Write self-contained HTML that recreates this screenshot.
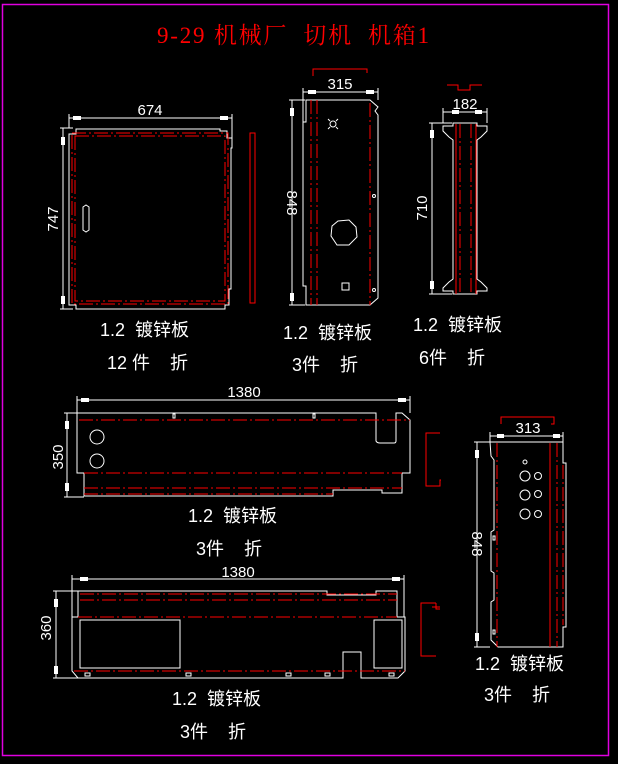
<!DOCTYPE html>
<html><head><meta charset="utf-8"><style>
html,body{margin:0;padding:0;background:#000;width:618px;height:764px;overflow:hidden}
svg{display:block}
text{white-space:pre}
.w{fill:none;stroke:#fff;stroke-width:1}
.r{fill:none;stroke:#f00;stroke-width:1}
.rd{fill:none;stroke:#f00;stroke-width:1;stroke-dasharray:14 3 2 3}
.t{fill:#fff;font-family:"Liberation Sans","Noto Sans CJK SC",sans-serif;font-size:18px}
.d{fill:#fff;font-family:"Liberation Sans",sans-serif;font-size:15px}
</style></head><body>
<svg width="618" height="764" viewBox="0 0 618 764" xml:space="preserve">
<rect x="2.5" y="4.5" width="606" height="751" fill="none" stroke="#e000e0" stroke-width="1.5"/>
<text x="157" y="43" fill="#f00" font-family="Liberation Serif,'Noto Serif CJK SC',serif" font-size="23" textLength="272" lengthAdjust="spacing">9-29 机械厂  切机  机箱1</text>

<!-- Panel 1 -->
<line class="w" x1="69" y1="118" x2="232" y2="118"/><line class="w" x1="69" y1="114" x2="69" y2="128"/><line class="w" x1="232" y1="114" x2="232" y2="145"/>
<rect x="73" y="116" width="8" height="4" fill="#fff"/><rect x="220" y="116" width="8" height="4" fill="#fff"/>
<text class="d" x="150" y="115" text-anchor="middle">674</text>
<line class="w" x1="63" y1="128" x2="63" y2="309"/><line class="w" x1="60" y1="128" x2="73" y2="128"/><line class="w" x1="60" y1="309" x2="73" y2="309"/>
<rect x="61" y="137" width="4" height="8" fill="#fff"/><rect x="61" y="296" width="4" height="8" fill="#fff"/>
<text class="d" transform="translate(58,219) rotate(-90)" text-anchor="middle">747</text>
<path class="w" d="M76,129 H220 V131 H227 V138 H232 V148 H231 V289 H229 V305 H225 V309 H76 V305 H69 V134 H76 Z"/>
<rect class="rd" x="72" y="133" width="156" height="171"/>
<rect class="rd" x="75" y="136" width="150" height="165"/>
<path class="w" d="M83,207 L86,205 L89,207 V230 L86,232 L83,230 Z"/>
<rect class="r" x="250" y="133" width="5" height="170"/>

<!-- Panel 2 -->
<path class="r" d="M313,76 V69 H367 V73" stroke-width="1.5"/>
<line class="w" x1="303" y1="92" x2="378" y2="92"/><line class="w" x1="303" y1="88" x2="303" y2="122"/><line class="w" x1="378" y1="88" x2="378" y2="100"/>
<rect x="308" y="90" width="8" height="4" fill="#fff"/><rect x="366" y="90" width="8" height="4" fill="#fff"/>
<text class="d" x="340" y="89" text-anchor="middle">315</text>
<line class="w" x1="292" y1="100" x2="292" y2="305"/><line class="w" x1="289" y1="100" x2="305" y2="100"/><line class="w" x1="289" y1="305" x2="305" y2="305"/>
<rect x="290" y="108" width="4" height="8" fill="#fff"/><rect x="290" y="293" width="4" height="8" fill="#fff"/>
<text class="d" transform="translate(287,203) rotate(90)" text-anchor="middle">848</text>
<path class="w" d="M306,100 H370 L378,107 L375,111 L378,115 V298 L370,305 H306 V286 H303 V122 H306 Z"/>
<line class="rd" x1="311" y1="100" x2="311" y2="305"/><line class="rd" x1="317" y1="100" x2="317" y2="305"/><line class="rd" x1="370" y1="103" x2="370" y2="305"/>
<circle class="w" cx="333" cy="124" r="3"/>
<path class="w" d="M328,119 l2,2 M338,119 l-2,2 M328,129 l2,-2 M338,129 l-2,-2"/>
<polygon class="w" points="338,221 349,220 356,227 357,237 349,245 337,245 331,236 332,226"/>
<rect class="w" x="342" y="283" width="7" height="7"/>
<circle class="w" cx="374" cy="196" r="1.5"/><circle class="w" cx="374" cy="290" r="1.5"/>

<!-- Panel 3 -->
<path class="r" d="M447,85 H458 V90 H470 V85 H482" stroke-width="1.5"/>
<line class="w" x1="443" y1="112" x2="487" y2="112"/><line class="w" x1="443" y1="108" x2="443" y2="123"/><line class="w" x1="487" y1="108" x2="487" y2="123"/>
<rect x="452" y="110" width="7" height="4" fill="#fff"/><rect x="475" y="110" width="7" height="4" fill="#fff"/>
<text class="d" x="465" y="109" text-anchor="middle">182</text>
<line class="w" x1="432" y1="123" x2="432" y2="294"/><line class="w" x1="429" y1="123" x2="452" y2="123"/><line class="w" x1="429" y1="294" x2="452" y2="294"/>
<rect x="430" y="130" width="4" height="8" fill="#fff"/><rect x="430" y="281" width="4" height="8" fill="#fff"/>
<text class="d" transform="translate(427,208) rotate(-90)" text-anchor="middle">710</text>
<path class="w" d="M453,123 H477 V126 H487 V131 L481,137 L477,140 V279 L481,282 L487,288 V291 H477 V294 H453 V291 H443 V288 L449,282 L453,279 V140 L449,137 L443,131 V126 H453 Z"/>
<line class="r" x1="456" y1="124" x2="456" y2="294"/><line class="rd" x1="460" y1="124" x2="460" y2="294"/><line class="rd" x1="471" y1="124" x2="471" y2="294"/><line class="r" x1="476" y1="124" x2="476" y2="294"/>

<!-- Panel 4 -->
<line class="w" x1="77" y1="400" x2="410" y2="400"/><line class="w" x1="77" y1="396" x2="77" y2="413"/><line class="w" x1="410" y1="396" x2="410" y2="413"/>
<rect x="81" y="398" width="8" height="4" fill="#fff"/><rect x="398" y="398" width="8" height="4" fill="#fff"/>
<text class="d" x="244" y="397" text-anchor="middle">1380</text>
<line class="w" x1="67" y1="413" x2="67" y2="497"/><line class="w" x1="64" y1="413" x2="77" y2="413"/><line class="w" x1="64" y1="497" x2="84" y2="497"/>
<rect x="65" y="421" width="4" height="8" fill="#fff"/><rect x="65" y="483" width="4" height="8" fill="#fff"/>
<text class="d" transform="translate(63,457) rotate(-90)" text-anchor="middle">350</text>
<path class="w" d="M77,413 H376 V441 Q377,443 380,443 H394 Q396,443 396,441 V413 H402 L410,420 V473 H402 V493 H382 V490 H333 V496 H84 V473 H77 Z"/>
<line class="rd" x1="79" y1="420" x2="410" y2="420"/><line class="rd" x1="84" y1="473" x2="402" y2="473"/><line class="rd" x1="84" y1="488" x2="402" y2="488"/><line class="rd" x1="84" y1="494" x2="333" y2="494"/>
<circle class="w" cx="97" cy="437" r="7"/><circle class="w" cx="97" cy="461" r="7"/>
<rect class="w" x="173" y="414" width="2" height="4"/><rect class="w" x="313" y="414" width="2" height="4"/>
<path class="r" d="M440,433 H426 V486 H440 V480 H441" stroke-width="1.5"/>

<!-- Panel 5 -->
<line class="w" x1="72" y1="579" x2="404" y2="579"/><line class="w" x1="72" y1="575" x2="72" y2="617"/><line class="w" x1="404" y1="575" x2="404" y2="617"/>
<rect x="80" y="577" width="8" height="4" fill="#fff"/><rect x="392" y="577" width="8" height="4" fill="#fff"/>
<text class="d" x="238" y="577" text-anchor="middle">1380</text>
<line class="w" x1="56" y1="591" x2="56" y2="678"/><line class="w" x1="53" y1="591" x2="78" y2="591"/><line class="w" x1="53" y1="678" x2="78" y2="678"/>
<rect x="54" y="599" width="4" height="8" fill="#fff"/><rect x="54" y="666" width="4" height="8" fill="#fff"/>
<text class="d" transform="translate(51,628) rotate(-90)" text-anchor="middle">360</text>
<path class="w" d="M78,591 H327 V595 H376 V591 H397 V617 H405 V671 L398,678 H361 V652 H343 V678 H78 L72,671 V617 H78 Z"/>
<line class="rd" x1="80" y1="594" x2="397" y2="594"/><line class="rd" x1="80" y1="600" x2="397" y2="600"/><line class="rd" x1="78" y1="617" x2="397" y2="617"/><line class="rd" x1="74" y1="671" x2="405" y2="671"/>
<rect class="w" x="80" y="620" width="100" height="48"/><rect class="w" x="374" y="620" width="28" height="48"/>
<rect class="w" x="85" y="673" width="5" height="3"/><rect class="w" x="186" y="673" width="5" height="3"/><rect class="w" x="286" y="673" width="5" height="3"/><rect class="w" x="325" y="673" width="5" height="3"/><rect class="w" x="389" y="673" width="5" height="3"/>
<path class="r" d="M436,603 H421 V656 H436 M436,603 V609 H440 M432,607 H440" stroke-width="1.5"/>

<!-- Panel 6 -->
<path class="r" d="M501,424 V417 H554 V424 H551" stroke-width="1.5"/>
<line class="w" x1="490" y1="436" x2="563" y2="436"/><line class="w" x1="490" y1="432" x2="490" y2="442"/><line class="w" x1="563" y1="432" x2="563" y2="442"/>
<rect x="497" y="434" width="7" height="4" fill="#fff"/><rect x="553" y="434" width="7" height="4" fill="#fff"/>
<text class="d" x="528" y="433" text-anchor="middle">313</text>
<line class="w" x1="477" y1="442" x2="477" y2="647"/><line class="w" x1="474" y1="442" x2="490" y2="442"/><line class="w" x1="474" y1="647" x2="490" y2="647"/>
<rect x="475" y="450" width="4" height="8" fill="#fff"/><rect x="475" y="633" width="4" height="8" fill="#fff"/>
<text class="d" transform="translate(472,544) rotate(90)" text-anchor="middle">848</text>
<path class="w" d="M490,442 H563 V463 H566 V627 H563 V647 H498 L491,640 V602 L494,600 V573 L491,571 V532 L494,530 V460 L491,456 Z"/>
<line class="rd" x1="497" y1="443" x2="497" y2="647"/><line class="r" x1="550" y1="443" x2="550" y2="647"/><line class="rd" x1="557" y1="443" x2="557" y2="647"/><line class="rd" x1="563" y1="465" x2="563" y2="625"/>
<circle class="w" cx="525" cy="462" r="2"/>
<circle class="w" cx="525" cy="476" r="5"/><circle class="w" cx="538" cy="476" r="3.5"/>
<circle class="w" cx="525" cy="495" r="5"/><circle class="w" cx="538" cy="494" r="3.5"/>
<circle class="w" cx="525" cy="514" r="5"/><circle class="w" cx="538" cy="514" r="3.5"/>
<rect class="w" x="493" y="536" width="2" height="4"/><rect class="w" x="493" y="630" width="2" height="4"/>

<!-- Labels -->
<text class="t" x="100" y="336">1.2  镀锌板</text><text class="t" x="107" y="369">12 件    折</text>
<text class="t" x="283" y="339">1.2  镀锌板</text><text class="t" x="292" y="371">3件    折</text>
<text class="t" x="413" y="331">1.2  镀锌板</text><text class="t" x="419" y="364">6件    折</text>
<text class="t" x="188" y="522">1.2  镀锌板</text><text class="t" x="196" y="555">3件    折</text>
<text class="t" x="172" y="705">1.2  镀锌板</text><text class="t" x="180" y="738">3件    折</text>
<text class="t" x="475" y="670">1.2  镀锌板</text><text class="t" x="484" y="701">3件    折</text>
</svg>
</body></html>
